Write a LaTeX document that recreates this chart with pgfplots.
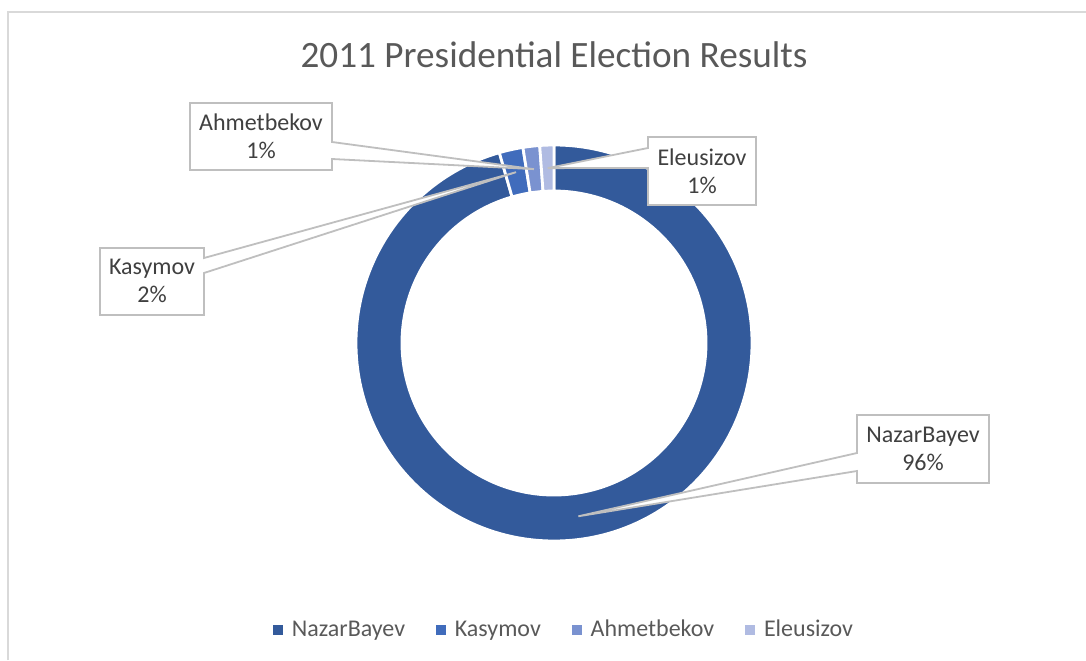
\documentclass[border=0pt]{standalone}
\usepackage{pgfplots}
\pgfplotsset{compat=1.18}
\usepackage{pgfplotstable}
\usepackage{fontspec}
\setmainfont{Carlito}
\definecolor{cNaz}{RGB}{51,90,155}
\definecolor{cKas}{RGB}{64,108,188}
\definecolor{cAhm}{RGB}{122,146,208}
\definecolor{cEle}{RGB}{176,187,226}
\definecolor{txtgray}{RGB}{64,64,64}
\definecolor{legray}{RGB}{89,89,89}
\definecolor{boxgray}{RGB}{191,191,191}
\definecolor{framegray}{RGB}{217,217,217}

\pgfplotstableread{
name value
NazarBayev 95.55
Kasymov 1.94
Ahmetbekov 1.36
Eleusizov 1.15
}\results

% donut geometry (axis units = pixels)
\def\cx{554}\def\cy{317}\def\Ro{198}\def\Ri{152}\def\Rm{175}
\def\cumsum{0}
\newcommand\computeslice[2]{%
  \pgfplotstablegetelem{#1}{value}\of\results
  \pgfmathsetmacro\tmpS{90-3.6*\cumsum}%
  \pgfmathsetmacro\cumsum{\cumsum+\pgfplotsretval}%
  \pgfmathsetmacro\tmpE{90-3.6*\cumsum}%
  \pgfmathsetmacro\tmpM{(\tmpS+\tmpE)/2}%
  \expandafter\xdef\csname sa#2\endcsname{\tmpS}%
  \expandafter\xdef\csname ea#2\endcsname{\tmpE}%
  \pgfmathsetmacro\tmp{\cx+\Ro*cos(\tmpS)}\expandafter\xdef\csname xo#2\endcsname{\tmp}%
  \pgfmathsetmacro\tmp{\cy+\Ro*sin(\tmpS)}\expandafter\xdef\csname yo#2\endcsname{\tmp}%
  \pgfmathsetmacro\tmp{\cx+\Ri*cos(\tmpE)}\expandafter\xdef\csname xi#2\endcsname{\tmp}%
  \pgfmathsetmacro\tmp{\cy+\Ri*sin(\tmpE)}\expandafter\xdef\csname yi#2\endcsname{\tmp}%
  \pgfmathsetmacro\tmp{\cx+\Rm*cos(\tmpM)}\expandafter\xdef\csname xm#2\endcsname{\tmp}%
  \pgfmathsetmacro\tmp{\cy+\Rm*sin(\tmpM)}\expandafter\xdef\csname ym#2\endcsname{\tmp}%
}
\computeslice{0}{A}
\computeslice{1}{B}
\computeslice{2}{C}
\computeslice{3}{D}

\begin{document}
\begin{tikzpicture}
\begin{axis}[
  scale only axis, width=543pt, height=330pt,
  xmin=0, xmax=1086, ymin=0, ymax=660,
  hide axis, clip=false,
  legend columns=-1,
  legend image code/.code={\fill[#1] (0pt,-2.25pt) rectangle (4.5pt,2.25pt);},
  legend style={draw=none, fill=none, at={(0.2514,0.0455)}, anchor=west,
    inner sep=0pt, outer sep=0pt,
    font=\fontsize{12}{14}\selectfont, text=legray,
    nodes={inner sep=0pt},
    /tikz/every odd column/.append style={column sep=4.5pt},
    /tikz/every even column/.append style={column sep=15.5pt}},
]
\addlegendimage{cNaz}\addlegendentry{NazarBayev}
\addlegendimage{cKas}\addlegendentry{Kasymov}
\addlegendimage{cAhm}\addlegendentry{Ahmetbekov}
\addlegendimage{cEle}\addlegendentry{Eleusizov}

% chart frame
\draw[framegray, line width=1pt] (axis cs:8,0) -- (axis cs:8,648) -- (axis cs:1086,648);

% title
\node[font=\fontsize{18.6}{22}\selectfont, text=legray, anchor=base] at (axis cs:554,592) {2011 Presidential Election Results};

% donut slices
\filldraw[fill=cNaz, draw=white, line width=1.4pt] (axis cs:\xoA,\yoA) arc[start angle=\saA, end angle=\eaA, radius=\Ro] -- (axis cs:\xiA,\yiA) arc[start angle=\eaA, end angle=\saA, radius=\Ri] -- cycle;
\filldraw[fill=cKas, draw=white, line width=1.4pt] (axis cs:\xoB,\yoB) arc[start angle=\saB, end angle=\eaB, radius=\Ro] -- (axis cs:\xiB,\yiB) arc[start angle=\eaB, end angle=\saB, radius=\Ri] -- cycle;
\filldraw[fill=cAhm, draw=white, line width=1.4pt] (axis cs:\xoC,\yoC) arc[start angle=\saC, end angle=\eaC, radius=\Ro] -- (axis cs:\xiC,\yiC) arc[start angle=\eaC, end angle=\saC, radius=\Ri] -- cycle;
\filldraw[fill=cEle, draw=white, line width=1.4pt] (axis cs:\xoD,\yoD) arc[start angle=\saD, end angle=\eaD, radius=\Ro] -- (axis cs:\xiD,\yiD) arc[start angle=\eaD, end angle=\saD, radius=\Ri] -- cycle;

% callouts
\filldraw[fill=white, draw=boxgray, line width=0.9pt] (axis cs:190,557) -- (axis cs:332,557) -- (axis cs:332,518) -- (axis cs:\xmC,\ymC) -- (axis cs:332,501) -- (axis cs:332,490) -- (axis cs:190,490) -- cycle;
\node[font=\fontsize{12}{14}\selectfont, text=txtgray, align=center] at (axis cs:261,524) {Ahmetbekov\\1\%};

\filldraw[fill=white, draw=boxgray, line width=0.9pt] (axis cs:100,412) -- (axis cs:204,412) -- (axis cs:204,402) -- (axis cs:\xmB,\ymB) -- (axis cs:204,387) -- (axis cs:204,345) -- (axis cs:100,345) -- cycle;
\node[font=\fontsize{12}{14}\selectfont, text=txtgray, align=center] at (axis cs:152,379) {Kasymov\\2\%};

\filldraw[fill=white, draw=boxgray, line width=0.9pt] (axis cs:648,523) -- (axis cs:756,523) -- (axis cs:756,455) -- (axis cs:648,455) -- (axis cs:648,492) -- (axis cs:\xmD,\ymD) -- (axis cs:648,512) -- cycle;
\node[font=\fontsize{12}{14}\selectfont, text=txtgray, align=center] at (axis cs:702,489) {Eleusizov\\1\%};

\filldraw[fill=white, draw=boxgray, line width=0.9pt] (axis cs:857,245) -- (axis cs:989,245) -- (axis cs:989,177) -- (axis cs:857,177) -- (axis cs:857,189) -- (axis cs:\xmA,\ymA) -- (axis cs:857,207) -- cycle;
\node[font=\fontsize{12}{14}\selectfont, text=txtgray, align=center] at (axis cs:923,211) {NazarBayev\\96\%};
\end{axis}
\pgfresetboundingbox
\useasboundingbox (0,0) rectangle (543pt,330pt);
\end{tikzpicture}
\end{document}
